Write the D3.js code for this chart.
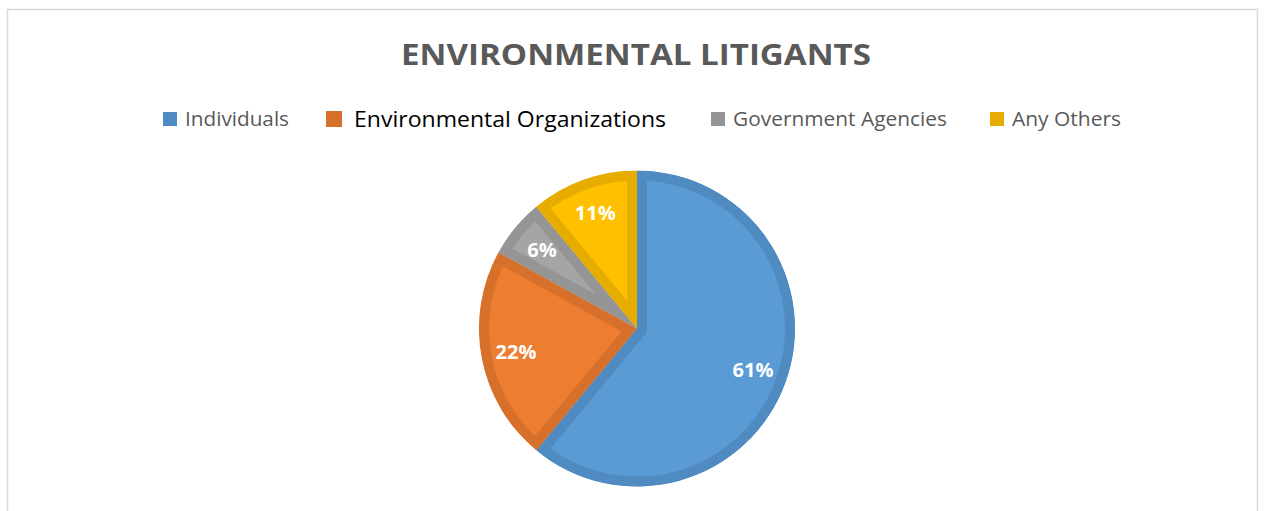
<!DOCTYPE html>
<html>
<head>
<meta charset="utf-8">
<script src="https://cdn.jsdelivr.net/npm/d3@7"></script>
<style>
  html, body { margin: 0; padding: 0; background: #fff; }
  svg { display: block; }
</style>
</head>
<body>
<svg id="chart" width="1266" height="511"></svg>
<script>
// Who brings environmental cases to court
const categories = ["Individuals", "Environmental Organizations", "Government Agencies", "Any Others"];
const shares = [61, 22, 6, 11];
const fillColors = ["#5B9BD5", "#ED7D31", "#A5A5A5", "#FFC000"];
const edgeColors = ["#4F8AC0", "#D6702B", "#959595", "#E6AD00"];
const legendWidths = [104, 312, 214, 109];
const legendX = [163, 326, 711, 990];

const svg = d3.select("#chart");
const font = "'Open Sans', 'Noto Sans', sans-serif";

// outer frame
svg.append("rect")
  .attr("x", 7.5).attr("y", 9.5)
  .attr("width", 1250).attr("height", 520)
  .attr("fill", "#fff")
  .attr("stroke", "#D9D9D9").attr("stroke-width", 1.5);

// title
svg.append("text")
  .attr("x", 636).attr("y", 65)
  .attr("text-anchor", "middle")
  .attr("font-family", font).attr("font-weight", 700)
  .attr("font-size", 29)
  .attr("fill", "#595959")
  .attr("textLength", 470).attr("lengthAdjust", "spacingAndGlyphs")
  .text("ENVIRONMENTAL LITIGANTS");

// legend
const legend = svg.append("g");
categories.forEach((c, i) => {
  const big = i === 1;
  const g = legend.append("g");
  g.append("rect")
    .attr("x", legendX[i]).attr("y", big ? 111 : 112)
    .attr("width", big ? 16 : 14).attr("height", big ? 16 : 14)
    .attr("fill", edgeColors[i]);
  g.append("text")
    .attr("x", legendX[i] + (big ? 28 : 22)).attr("y", big ? 127 : 126)
    .attr("font-family", font)
    .attr("font-size", big ? 22.5 : 20)
    .attr("fill", big ? "#000000" : "#595959")
    .attr("textLength", legendWidths[i]).attr("lengthAdjust", "spacingAndGlyphs")
    .text(c);
});

// pie
const cx = 637, cy = 328.5, R = 158;
const pie = d3.pie().sort(null).value(d => d)(shares);
const arc = d3.arc().innerRadius(0).outerRadius(R);
const labelArc = d3.arc().innerRadius(R * 0.78).outerRadius(R * 0.78);

const defs = svg.append("defs");
const pg = svg.append("g").attr("transform", `translate(${cx},${cy})`);

pie.forEach((d, i) => {
  defs.append("clipPath").attr("id", "slice-clip-" + i)
    .append("path").attr("d", arc(d));
  pg.append("path")
    .attr("d", arc(d))
    .attr("fill", fillColors[i])
    .attr("stroke", edgeColors[i])
    .attr("stroke-width", 20)
    .attr("stroke-linejoin", "miter")
    .attr("clip-path", `url(#slice-clip-${i})`);
});

pg.selectAll("text.lbl")
  .data(pie)
  .join("text")
  .attr("class", "lbl")
  .attr("transform", d => `translate(${labelArc.centroid(d)})`)
  .attr("text-anchor", "middle")
  .attr("dy", "0.35em")
  .attr("font-family", font).attr("font-weight", 700)
  .attr("font-size", 20)
  .attr("fill", "#ffffff")
  .text(d => d.data + "%");
</script>
</body>
</html>
